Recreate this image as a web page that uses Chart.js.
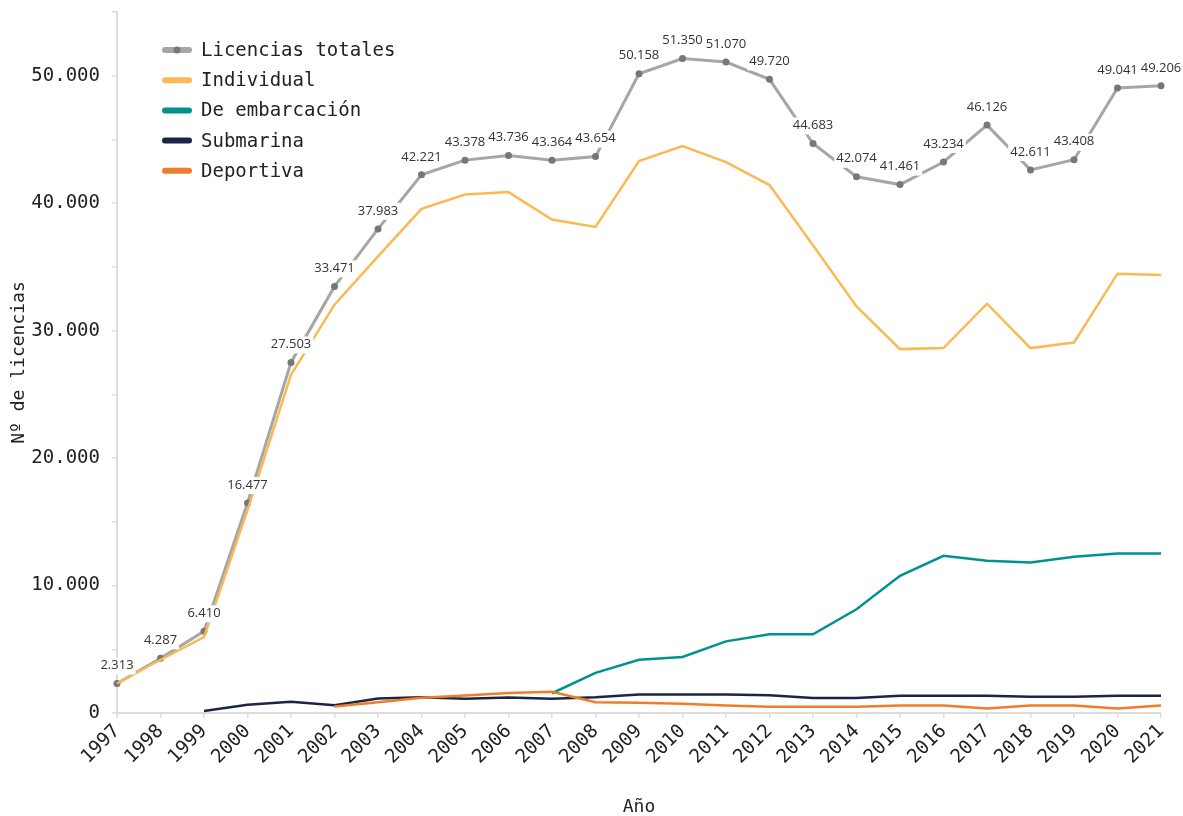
<!DOCTYPE html>
<html>
<head>
<meta charset="utf-8">
<script src="https://cdn.jsdelivr.net/npm/chart.js@4"></script>
<style>
  html, body { margin: 0; padding: 0; background: #fff; }
</style>
</head>
<body>
<canvas id="licencias" width="1183" height="816"></canvas>
<script>
const years = ['1997', '1998', '1999', '2000', '2001', '2002', '2003', '2004', '2005', '2006', '2007', '2008',
  '2009', '2010', '2011', '2012', '2013', '2014', '2015', '2016', '2017', '2018', '2019', '2020', '2021'];

const totales = [2313, 4287, 6410, 16477, 27503, 33471, 37983, 42221, 43378, 43736, 43364, 43654,
  50158, 51350, 51070, 49720, 44683, 42074, 41461, 43234, 46126, 42611, 43408, 49041, 49206];
const individual = [2313, 4180, 5960, 15900, 26530, 32040, 35830, 39560, 40680, 40870, 38720, 38140,
  43300, 44480, 43220, 41420, 36700, 31900, 28550, 28630, 32110, 28630, 29070, 34470, 34370];
const embarcacion = [null, null, null, null, null, null, null, null, null, null, 1550, 3150,
  4180, 4390, 5620, 6170, 6170, 8140, 10760, 12330, 11940, 11810, 12250, 12510, 12510];
const submarina = [null, null, 150, 650, 880, 610, 1140, 1240, 1115, 1220, 1115, 1240,
  1450, 1450, 1450, 1400, 1170, 1170, 1350, 1350, 1350, 1270, 1270, 1350, 1350];
const deportiva = [null, null, null, null, null, 510, 850, 1190, 1375, 1560, 1670, 850,
  800, 720, 590, 490, 490, 490, 590, 590, 350, 590, 590, 350, 590];

const MONO = '"DejaVu Sans Mono", monospace';

// miles con punto: 51350 -> 51.350
const fmt = v => String(v).replace(/\B(?=(\d{3})+(?!\d))/g, '.');

// etiquetas de valor sobre la serie de totales, con fondo blanco
const valueLabels = {
  id: 'valueLabels',
  afterDatasetsDraw(chart) {
    const ctx = chart.ctx;
    const meta = chart.getDatasetMeta(0);
    ctx.save();
    ctx.font = '13px "Open Sans", sans-serif';
    ctx.textAlign = 'center';
    ctx.textBaseline = 'middle';
    meta.data.forEach((pt, i) => {
      const txt = fmt(totales[i]);
      const w = ctx.measureText(txt).width;
      const cy = pt.y - 18;
      ctx.fillStyle = '#fff';
      ctx.fillRect(pt.x - w / 2 - 2, cy - 8, w + 4, 17);
      ctx.fillStyle = '#333';
      ctx.fillText(txt, pt.x, cy);
    });
    ctx.restore();
  }
};

// leyenda dentro del área del gráfico
const sideLegend = {
  id: 'sideLegend',
  afterDraw(chart) {
    const ctx = chart.ctx;
    ctx.save();
    ctx.font = '19px ' + MONO;
    ctx.textBaseline = 'middle';
    chart.data.datasets.forEach((ds, i) => {
      const y = 50 + i * 30.2;
      ctx.strokeStyle = ds.borderColor;
      ctx.lineWidth = 6;
      ctx.lineCap = 'round';
      ctx.beginPath();
      ctx.moveTo(165, y);
      ctx.lineTo(189, y);
      ctx.stroke();
      if (ds.pointRadius) {
        ctx.fillStyle = ds.pointBackgroundColor;
        ctx.beginPath();
        ctx.arc(177, y, 3.5, 0, Math.PI * 2);
        ctx.fill();
      }
      ctx.fillStyle = '#222';
      ctx.fillText(ds.label, 201, y + 1);
    });
    ctx.restore();
  }
};

const line = (label, data, color, order) => ({
  label, data, order,
  borderColor: color,
  backgroundColor: color,
  borderWidth: 2.5,
  pointRadius: 0,
  tension: 0,
  spanGaps: false
});

const ctx = document.getElementById('licencias').getContext('2d');
new Chart(ctx, {
  type: 'line',
  data: {
    labels: years,
    datasets: [
      Object.assign(line('Licencias totales', totales, '#a6a6a6', 5), {
        borderWidth: 3, pointRadius: 3.5, pointBackgroundColor: '#777', pointBorderWidth: 0
      }),
      line('Individual', individual, '#fbb954', 4),
      line('De embarcación', embarcacion, '#00928f', 3),
      line('Submarina', submarina, '#1d2545', 2),
      line('Deportiva', deportiva, '#f07d2a', 1)
    ]
  },
  options: {
    responsive: false,
    animation: false,
    devicePixelRatio: 1,
    layout: { padding: { top: 12, right: 22, left: 0, bottom: 0 } },
    plugins: {
      legend: { display: false },
      tooltip: { enabled: false }
    },
    scales: {
      x: {
        afterFit: s => { s.height = 103; },
        grid: { drawOnChartArea: false, color: '#dddddd', tickLength: 5, lineWidth: 1.5 },
        border: { color: '#dddddd', width: 2 },
        ticks: {
          autoSkip: false, minRotation: 45, maxRotation: 45, padding: 2,
          color: '#222', font: { family: MONO, size: 19 }
        },
        title: {
          display: true, text: 'Año', color: '#222',
          font: { family: MONO, size: 18, lineHeight: 1 }, padding: { top: 0, bottom: 0 }
        }
      },
      y: {
        min: 0, max: 55000,
        afterFit: s => { s.width = 117; s.paddingTop = 0; s.paddingBottom = 0; },
        grid: { drawOnChartArea: false, color: '#dddddd', tickLength: 5, lineWidth: 1.5 },
        border: { color: '#dddddd', width: 2 },
        ticks: {
          stepSize: 5000, padding: 12, color: '#222',
          font: { family: MONO, size: 19 },
          callback: v => (v % 10000 === 0 && v < 55000) ? fmt(v) : ''
        },
        title: {
          display: true, text: 'Nº de licencias', color: '#222',
          font: { family: MONO, size: 18 }, padding: { top: 9, bottom: 0 }
        }
      }
    }
  },
  plugins: [valueLabels, sideLegend]
});
</script>
</body>
</html>
